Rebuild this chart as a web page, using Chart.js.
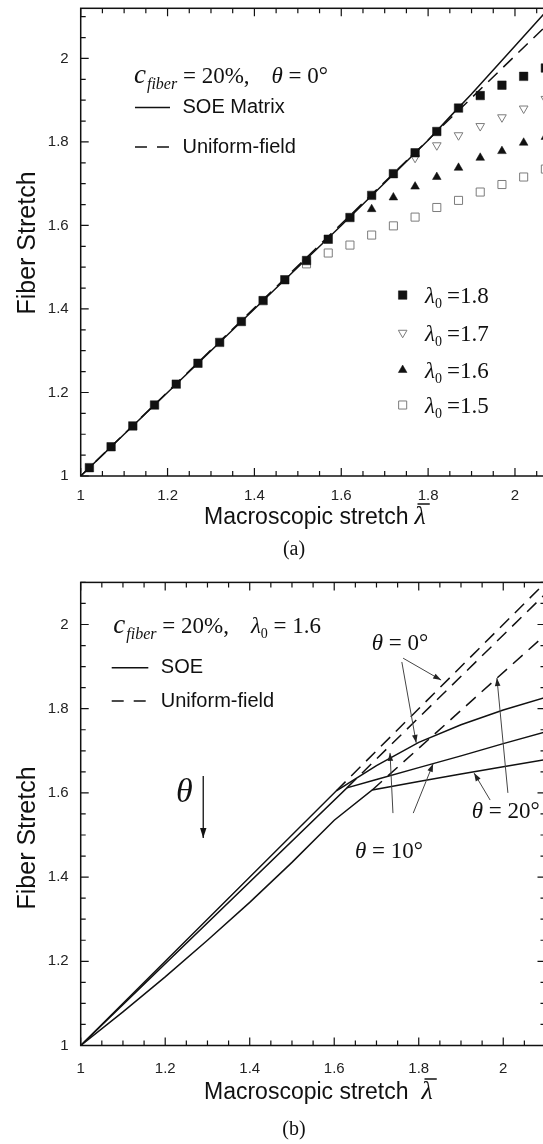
<!DOCTYPE html>
<html>
<head>
<meta charset="utf-8">
<title>Fiber stretch vs macroscopic stretch</title>
<script src="https://cdn.jsdelivr.net/npm/chart.js@4.4.1/dist/chart.umd.min.js"></script>
<style>
  html, body { margin: 0; padding: 0; background: #fff; overflow: hidden; }
  #page { position: relative; width: 543px; height: 1144px; overflow: hidden; background: #fff; }
  #page canvas { position: absolute; left: 0; }
  #plotA { top: 0; }
  #plotB { top: 560px; }
  .caption { position: absolute; width: 80px; text-align: center; font: 20px "Liberation Serif", "Times New Roman", serif; color: #111; line-height: 24px; }
</style>
</head>
<body>
<div id="page">
  <canvas id="plotA" width="600" height="540" style="width:600px;height:540px"></canvas>
  <canvas id="plotB" width="600" height="570" style="width:600px;height:570px"></canvas>
  <div class="caption" style="left:254px; top:536px;">(a)</div>
  <div class="caption" style="left:254px; top:1116px;">(b)</div>
</div>
<script>
const SANS = '"Liberation Sans", Arial, Helvetica, sans-serif';
const SERIF = '"Liberation Serif", "Times New Roman", Times, serif';
const INK = '#111111';
const GREY = '#7c7c7c';

// axis ticks shared by both panels
const tickValues = [1, 1.2, 1.4, 1.6, 1.8, 2];
const tickLabels = ['1', '1.2', '1.4', '1.6', '1.8', '2'];
const minorStep = 0.05;

// (a) c_fiber = 20 %, theta = 0 deg : fiber stretch at each macroscopic stretch
const stretchA   = [1.02, 1.07, 1.12, 1.17, 1.22, 1.27, 1.32, 1.37, 1.42, 1.47, 1.52, 1.57, 1.62, 1.67, 1.72, 1.77, 1.82, 1.87, 1.92, 1.97, 2.02, 2.07];
const lambda0_18 = [1.02, 1.07, 1.12, 1.17, 1.22, 1.27, 1.32, 1.37, 1.42, 1.47, 1.516, 1.567, 1.619, 1.672, 1.724, 1.774, 1.825, 1.881, 1.911, 1.936, 1.957, 1.977];
const lambda0_17 = [null, null, null, null, null, null, null, null, null, null, null, null, null, null, null, 1.762, 1.792, 1.816, 1.838, 1.859, 1.880, 1.903];
const lambda0_16 = [null, null, null, null, null, null, null, null, null, null, null, null, null, 1.639, 1.667, 1.693, 1.716, 1.738, 1.762, 1.778, 1.798, 1.812];
const lambda0_15 = [null, null, null, null, null, null, null, null, null, null, 1.508, 1.534, 1.553, 1.577, 1.599, 1.620, 1.643, 1.660, 1.680, 1.698, 1.716, 1.735];
const soeMatrixX = [1, 1.2, 1.4, 1.6, 1.8, 1.85, 1.9, 2.0, 2.1];
const soeMatrixY = [1, 1.2, 1.4, 1.6, 1.804, 1.86, 1.915, 2.03, 2.145];
const uniformAX  = [1, 2.15];
const uniformAY  = [1, 2.157];

// (b) c_fiber = 20 %, lambda0 = 1.6 : SOE and uniform-field curves for three fiber angles
const soe0X  = [1, 1.605, 1.7, 1.8, 1.9, 2.0, 2.15];
const soe0Y  = [1, 1.605, 1.665, 1.72, 1.762, 1.797, 1.842];
const soe10X = [1, 1.63, 1.7, 1.8, 1.9, 2.0, 2.15];
const soe10Y = [1, 1.612, 1.632, 1.66, 1.688, 1.717, 1.759];
const soe20X = [1, 1.1, 1.2, 1.3, 1.4, 1.5, 1.6, 1.69, 1.8, 1.9, 2.0, 2.15];
const soe20Y = [1, 1.08, 1.163, 1.25, 1.34, 1.435, 1.535, 1.607, 1.627, 1.645, 1.662, 1.688];
const uni0X  = [1.605, 2.15];
const uni0Y  = [1.605, 2.15];
const uni10X = [1.63, 2.15];
const uni10Y = [1.612, 2.122];
const uni20X = [1.69, 2.15];
const uni20Y = [1.607, 2.021];

const pairs = (xs, ys) => xs.map((v, i) => ({ x: v, y: ys[i] }));

Chart.defaults.font.family = SANS;

// marker styles (shared by plotted points and the in-plot key)
const mk18 = { pointStyle: 'rect', pointRadius: 6, pointRotation: 0, backgroundColor: INK, borderColor: INK, borderWidth: 0.5 };
const mk17 = { pointStyle: 'triangle', pointRadius: 5, pointRotation: 180, backgroundColor: '#ffffff', borderColor: GREY, borderWidth: 1 };
const mk16 = { pointStyle: 'triangle', pointRadius: 5, pointRotation: 0, backgroundColor: INK, borderColor: INK, borderWidth: 0.5 };
const mk15 = { pointStyle: 'rect', pointRadius: 5.7, pointRotation: 0, backgroundColor: '#ffffff', borderColor: GREY, borderWidth: 1 };

function curve(xs, ys, dashed) {
  return { data: pairs(xs, ys), showLine: true, pointRadius: 0, borderColor: INK, borderWidth: 1.5,
           borderDash: dashed ? [13, 8] : [], fill: false, tension: 0 };
}
function dots(ys, style) {
  return Object.assign({ data: pairs(stretchA, ys), showLine: false, pointHoverRadius: style.pointRadius }, style);
}

function axis(min, max, pad, isY, size) {
  return {
    type: 'linear', min, max,
    grid: { display: false, drawTicks: false },
    border: { display: false },
    afterBuildTicks: s => { s.ticks = tickValues.map(v => ({ value: v })); },
    afterFit: s => {
      if (isY) s.width = size; else s.height = size;
      s.paddingTop = 0; s.paddingBottom = 0; s.paddingLeft = 0; s.paddingRight = 0;
    },
    ticks: { padding: pad, color: '#222', font: { family: SANS, size: 15 }, autoSkip: false, maxRotation: 0,
             callback: (v, i) => tickLabels[i] }
  };
}

// box round the plot area with inward major and minor ticks on all four sides
const frame = {
  id: 'frame',
  afterDatasetsDraw(chart) {
    const { ctx, chartArea: a, scales: { x, y } } = chart;
    ctx.save();
    ctx.strokeStyle = INK;
    ctx.lineWidth = 1.5;
    ctx.strokeRect(a.left, a.top, a.right - a.left, a.bottom - a.top);
    ctx.lineWidth = 1.2;
    ctx.beginPath();
    const nx = Math.round((x.max - x.min) / minorStep);
    for (let k = 0; k <= nx; k++) {
      const len = k % 4 === 0 ? 8 : 5;
      const p = x.getPixelForValue(x.min + k * minorStep);
      ctx.moveTo(p, a.bottom); ctx.lineTo(p, a.bottom - len);
      ctx.moveTo(p, a.top); ctx.lineTo(p, a.top + len);
    }
    const ny = Math.round((y.max - y.min) / minorStep);
    for (let k = 0; k <= ny; k++) {
      const len = k % 4 === 0 ? 8 : 5;
      const p = y.getPixelForValue(y.min + k * minorStep);
      ctx.moveTo(a.left, p); ctx.lineTo(a.left + len, p);
      ctx.moveTo(a.right, p); ctx.lineTo(a.right - len, p);
    }
    ctx.stroke();
    ctx.restore();
  }
};

function textRuns(ctx, x, y, parts) {
  let cx = x;
  for (const p of parts) {
    ctx.font = p.font;
    if (p.pre) cx += p.pre;
    ctx.fillText(p.text, cx, y + (p.dy || 0));
    cx += ctx.measureText(p.text).width;
  }
  return cx;
}
function arrowLine(ctx, x0, y0, x1, y1, head, half) {
  ctx.beginPath(); ctx.moveTo(x0, y0); ctx.lineTo(x1, y1); ctx.stroke();
  const ang = Math.atan2(y1 - y0, x1 - x0);
  const c = Math.cos(ang), s = Math.sin(ang);
  ctx.beginPath();
  ctx.moveTo(x1, y1);
  ctx.lineTo(x1 - head * c + half * s, y1 - head * s - half * c);
  ctx.lineTo(x1 - head * c - half * s, y1 - head * s + half * c);
  ctx.closePath(); ctx.fill();
}
function marker(ctx, st, x, y) {
  ctx.save();
  ctx.fillStyle = st.backgroundColor; ctx.strokeStyle = st.borderColor; ctx.lineWidth = st.borderWidth;
  Chart.helpers.drawPoint(ctx, { pointStyle: st.pointStyle, radius: st.pointRadius, rotation: st.pointRotation, borderWidth: st.borderWidth }, x, y);
  ctx.restore();
}
function yTitle(chart, yValue) {
  const { ctx, chartArea } = chart;
  const py = chart.scales.y.getPixelForValue(yValue);
  ctx.save();
  ctx.translate(chartArea.left - 46, py);
  ctx.rotate(-Math.PI / 2);
  ctx.font = `25px ${SANS}`; ctx.textAlign = 'center'; ctx.textBaseline = 'alphabetic'; ctx.fillStyle = INK;
  ctx.fillText('Fiber Stretch', 0, 0);
  ctx.restore();
}
function xTitle(chart, below, gap) {
  const { ctx, chartArea } = chart;
  const base = chartArea.bottom + below;
  ctx.save();
  ctx.fillStyle = INK; ctx.strokeStyle = INK; ctx.textAlign = 'left'; ctx.textBaseline = 'alphabetic';
  ctx.font = `23px ${SANS}`;
  let x = chartArea.left + 123.3;
  ctx.fillText('Macroscopic stretch', x, base);
  x += ctx.measureText('Macroscopic stretch').width + gap;
  ctx.font = `italic 26px ${SERIF}`;
  ctx.fillText('λ', x, base);
  const w = ctx.measureText('λ').width;
  ctx.lineWidth = 1.5;
  ctx.beginPath(); ctx.moveTo(x + 3, base - 20); ctx.lineTo(x + w + 4, base - 20); ctx.stroke();
  ctx.restore();
}
function lineKey(ctx, P, x0, x1, yv, label, dashed) {
  const [a, y] = P(x0, yv), [b] = P(x1, yv);
  ctx.save();
  ctx.lineWidth = 1.5; ctx.setLineDash(dashed ? [12, 10] : []);
  ctx.beginPath(); ctx.moveTo(a, y); ctx.lineTo(b, y); ctx.stroke();
  ctx.restore();
  ctx.font = `20px ${SANS}`; ctx.textBaseline = 'middle';
  ctx.fillText(label, b + 12.5, y);
  ctx.textBaseline = 'alphabetic';
}

const notesA = {
  id: 'notesA',
  afterDraw(chart) {
    const ctx = chart.ctx;
    const P = (xv, yv) => [chart.scales.x.getPixelForValue(xv), chart.scales.y.getPixelForValue(yv)];
    ctx.save();
    ctx.fillStyle = INK; ctx.strokeStyle = INK; ctx.textAlign = 'left'; ctx.textBaseline = 'alphabetic';
    const [hx, hy] = P(1.1227, 1.9416);
    textRuns(ctx, hx, hy, [
      { text: 'c', font: `italic 27px ${SERIF}` },
      { text: 'fiber', font: `italic 16px ${SERIF}`, dy: 6, pre: 1 },
      { text: ' = 20%,', font: `23px ${SERIF}` },
      { text: 'θ', font: `italic 23px ${SERIF}`, pre: 22 },
      { text: ' = 0°', font: `23px ${SERIF}` }
    ]);
    lineKey(ctx, P, 1.125, 1.2056, 1.8826, 'SOE Matrix', false);
    lineKey(ctx, P, 1.125, 1.2056, 1.7877, 'Uniform-field', true);
    const keys = [[mk18, '1.8', 1.4333], [mk17, '1.7', 1.343], [mk16, '1.6', 1.2538], [mk15, '1.5', 1.17]];
    for (const [st, val, yv] of keys) {
      const [mx, my] = P(1.7414, yv);
      marker(ctx, st, mx, my);
      const [tx] = P(1.7928, yv);
      ctx.fillStyle = INK;
      textRuns(ctx, tx, my + 8, [
        { text: 'λ', font: `italic 23px ${SERIF}` },
        { text: '0', font: `14px ${SERIF}`, dy: 5 },
        { text: '=' + val, font: `23px ${SERIF}`, pre: 5 }
      ]);
    }
    yTitle(chart, 1.558);
    xTitle(chart, 48, 6);
    ctx.restore();
  }
};

const notesB = {
  id: 'notesB',
  afterDraw(chart) {
    const ctx = chart.ctx;
    const P = (xv, yv) => [chart.scales.x.getPixelForValue(xv), chart.scales.y.getPixelForValue(yv)];
    ctx.save();
    ctx.fillStyle = INK; ctx.strokeStyle = INK; ctx.textAlign = 'left'; ctx.textBaseline = 'alphabetic';
    const [hx, hy] = P(1.0772, 1.98);
    textRuns(ctx, hx, hy, [
      { text: 'c', font: `italic 27px ${SERIF}` },
      { text: 'fiber', font: `italic 16px ${SERIF}`, dy: 6, pre: 1 },
      { text: ' = 20%,', font: `23px ${SERIF}` },
      { text: 'λ', font: `italic 23px ${SERIF}`, pre: 22 },
      { text: '0', font: `14px ${SERIF}`, dy: 5 },
      { text: ' = 1.6', font: `23px ${SERIF}` }
    ]);
    lineKey(ctx, P, 1.0734, 1.16, 1.8974, 'SOE', false);
    lineKey(ctx, P, 1.0734, 1.16, 1.8183, 'Uniform-field', true);

    const angle = (xv, yv, deg) => {
      const [x, y] = P(xv, yv);
      textRuns(ctx, x, y, [
        { text: 'θ', font: `italic 23px ${SERIF}` },
        { text: ' = ' + deg + '°', font: `23px ${SERIF}` }
      ]);
    };
    angle(1.6888, 1.9394, '0');
    angle(1.649, 1.4454, '10');
    angle(1.9254, 1.5404, '20');

    // pointers from the angle labels to their curves
    ctx.strokeStyle = '#444'; ctx.fillStyle = '#222'; ctx.lineWidth = 1;
    const pointers = [
      [1.763, 1.920, 1.853, 1.868],
      [1.760, 1.911, 1.794, 1.719],
      [1.739, 1.552, 1.732, 1.695],
      [1.787, 1.552, 1.834, 1.669],
      [1.969, 1.583, 1.931, 1.647],
      [2.011, 1.600, 1.985, 1.873]
    ];
    for (const [x0, y0, x1, y1] of pointers) {
      const [a, b] = P(x0, y0), [c, d] = P(x1, y1);
      arrowLine(ctx, a, b, c, d, 8, 2.8);
    }

    // increasing angle direction
    ctx.fillStyle = INK; ctx.strokeStyle = INK;
    const [tx, ty] = P(1.2256, 1.578);
    ctx.font = `italic 34px ${SERIF}`;
    ctx.fillText('θ', tx, ty);
    const [ax, ay0] = P(1.29, 1.64), [, ay1] = P(1.29, 1.493);
    ctx.lineWidth = 1.3;
    arrowLine(ctx, ax, ay0, ax, ay1, 10, 3.2);

    yTitle(chart, 1.493);
    xTitle(chart, 53.5, 13);
    ctx.restore();
  }
};

new Chart(document.getElementById('plotA'), {
  type: 'scatter',
  data: {
    datasets: [
      dots(lambda0_18, mk18),
      dots(lambda0_17, mk17),
      dots(lambda0_16, mk16),
      dots(lambda0_15, mk15),
      curve(soeMatrixX, soeMatrixY, false),
      curve(uniformAX, uniformAY, true)
    ]
  },
  options: {
    responsive: false, animation: false, devicePixelRatio: 1, events: [],
    layout: { padding: { top: 8.3, right: 41.6, bottom: 0, left: 0 } },
    plugins: { legend: { display: false }, tooltip: { enabled: false } },
    scales: { x: axis(1, 2.1, 11, false, 64), y: axis(1, 2.12, 12, true, 80.7) }
  },
  plugins: [frame, notesA]
});

new Chart(document.getElementById('plotB'), {
  type: 'scatter',
  data: {
    datasets: [
      curve(soe0X, soe0Y, false),
      curve(soe10X, soe10Y, false),
      curve(soe20X, soe20Y, false),
      curve(uni0X, uni0Y, true),
      curve(uni10X, uni10Y, true),
      curve(uni20X, uni20Y, true)
    ]
  },
  options: {
    responsive: false, animation: false, devicePixelRatio: 1, events: [],
    layout: { padding: { top: 22.4, right: 54.5, bottom: 0, left: 0 } },
    plugins: { legend: { display: false }, tooltip: { enabled: false } },
    scales: { x: axis(1, 2.1, 14, false, 84.5), y: axis(1, 2.1, 12, true, 80.7) }
  },
  plugins: [frame, notesB]
});
</script>
</body>
</html>
